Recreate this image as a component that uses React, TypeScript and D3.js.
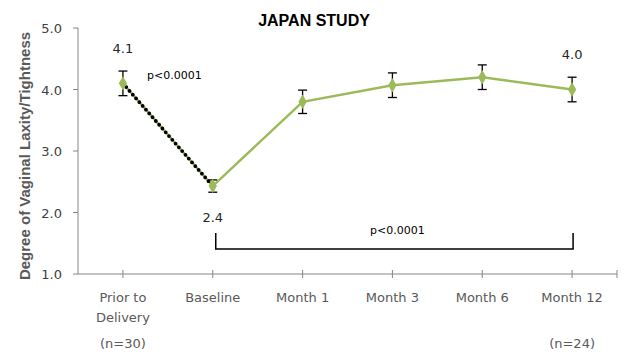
import React from 'react';
import * as d3 from 'd3';

// chart data
const categories = ['Prior to Delivery', 'Baseline', 'Month 1', 'Month 3', 'Month 6', 'Month 12'];
const catLines = [['Prior to', 'Delivery'], ['Baseline'], ['Month 1'], ['Month 3'], ['Month 6'], ['Month 12']];
const means = [4.1, 2.43, 3.8, 4.07, 4.2, 4.0];
const errors = [0.2, 0.1, 0.19, 0.2, 0.2, 0.2];
const yTicks = [1, 2, 3, 4, 5];
const nLabels = [{ idx: 0, text: '(n=30)' }, { idx: 5, text: '(n=24)' }];
const valueLabels = [{ idx: 0, text: '4.1', dy: -30 }, { idx: 1, text: '2.4', dy: 36 }, { idx: 5, text: '4.0', dy: -31 }];

const width = 631;
const height = 359;
const margins = { left: 78, right: 14, top: 28, bottom: 85 };
const green = '#9BBB59';
const axisColor = '#868686';
const font = '"DejaVu Sans", sans-serif';

const App = () => {
    const xScale = d3.scaleBand()
        .domain(categories)
        .range([margins.left, width - margins.right])
        .padding(0);
    const cx = (i: number) => (xScale(categories[i]) as number) + xScale.bandwidth() / 2;

    const yScale = d3.scaleLinear()
        .domain([1, 5])
        .range([height - margins.bottom, margins.top]);

    const line = d3.line<number>()
        .x((d, i) => cx(i))
        .y((d) => yScale(d));

    const diamond = d3.symbol().type(d3.symbolDiamond).size(60)();
    const y0 = yScale(1);
    const bracketX1 = cx(1) + 3;
    const bracketX2 = cx(5) + 1;
    const bracketTop = 233;
    const bracketBottom = 249;

    return (
        <div style={{ position: 'absolute', left: 0, top: 0 }}>
            <svg width={width} height={height} style={{ display: 'block', background: '#fff' }}>
                {/* title */}
                <text x={314} y={26} textAnchor="middle" fontFamily='"Liberation Sans", Arial, sans-serif'
                    fontWeight="bold" fontSize={16} fill="#000">JAPAN STUDY</text>

                {/* y axis label */}
                <text transform={`translate(30,156)rotate(-90)`} textAnchor="middle"
                    fontFamily='"Liberation Sans", Arial, sans-serif' fontWeight="bold" fontSize={15}
                    fill="#595959">Degree of Vaginal Laxity/Tightness</text>

                {/* y axis */}
                <line x1={margins.left} x2={margins.left} y1={margins.top} y2={y0} stroke={axisColor} strokeWidth={1} />
                {yTicks.map(t => (
                    <g key={t}>
                        <line x1={margins.left - 5} x2={margins.left} y1={yScale(t)} y2={yScale(t)} stroke={axisColor} />
                        <text x={62} y={yScale(t) + 5} textAnchor="end" fontFamily={font} fontSize={13}
                            fill="#404040">{t.toFixed(1)}</text>
                    </g>
                ))}

                {/* x axis */}
                <line x1={margins.left} x2={width - margins.right} y1={y0} y2={y0} stroke={axisColor} />
                {categories.map((c, i) => (
                    <line key={c} x1={cx(i)} x2={cx(i)} y1={y0 - 4} y2={y0 + 4} stroke={axisColor} />
                ))}
                <line x1={width - margins.right} x2={width - margins.right} y1={y0 - 4} y2={y0 + 4} stroke={axisColor} />
                {catLines.map((ls, i) => ls.map((l, j) => (
                    <text key={i + '-' + j} x={cx(i)} y={302 + j * 20} textAnchor="middle" fontFamily={font}
                        fontSize={13} fill="#595959">{l}</text>
                )))}
                {nLabels.map(n => (
                    <text key={n.text} x={cx(n.idx)} y={348} textAnchor="middle" fontFamily={font} fontSize={13}
                        fill="#595959">{n.text}</text>
                ))}

                {/* series */}
                <path d={line(means) || ''} fill="none" stroke={green} strokeWidth={2.5} />
                <path d={line(means.slice(0, 2)) || ''} fill="none" stroke="#000" strokeWidth={3.8}
                    strokeDasharray="0 5" strokeLinecap="round" />

                {means.map((m, i) => (
                    <g key={i}>
                        <line x1={cx(i)} x2={cx(i)} y1={yScale(m + errors[i])} y2={yScale(m - errors[i])}
                            stroke="#000" strokeWidth={1.3} />
                        <line x1={cx(i) - 4.5} x2={cx(i) + 4.5} y1={yScale(m + errors[i])} y2={yScale(m + errors[i])}
                            stroke="#000" strokeWidth={1.3} />
                        <line x1={cx(i) - 4.5} x2={cx(i) + 4.5} y1={yScale(m - errors[i])} y2={yScale(m - errors[i])}
                            stroke="#000" strokeWidth={1.3} />
                        <path d={diamond || ''} transform={`translate(${cx(i)},${yScale(m)})`} fill={green} />
                    </g>
                ))}

                {/* value labels */}
                {valueLabels.map(v => (
                    <text key={v.text} x={cx(v.idx)} y={yScale(means[v.idx]) + v.dy} textAnchor="middle"
                        fontFamily={font} fontSize={13} fill="#262626">{v.text}</text>
                ))}

                {/* significance */}
                <text x={147} y={79} fontFamily={font} fontSize={11} fill="#000">p&lt;0.0001</text>
                <path d={`M${bracketX1},${bracketTop}V${bracketBottom}H${bracketX2}V${bracketTop}`} fill="none"
                    stroke="#000" strokeWidth={1.5} />
                <text x={(bracketX1 + bracketX2) / 2 + 3} y={234} textAnchor="middle" fontFamily={font}
                    fontSize={11} fill="#000">p&lt;0.0001</text>
            </svg>
        </div>
    );
};

export default App;
